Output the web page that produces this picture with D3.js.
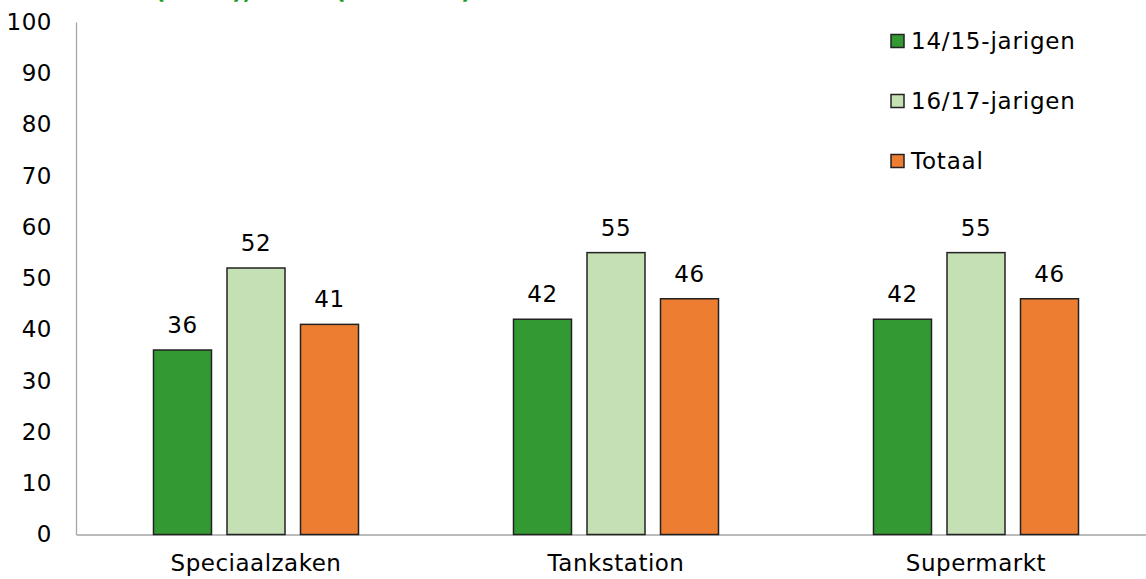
<!DOCTYPE html>
<html><head><meta charset="utf-8">
<script src="https://cdn.jsdelivr.net/npm/d3@7"></script>
<style>body{margin:0;background:#fff}svg{display:block}text{font-family:"DejaVu Sans",Verdana,sans-serif;letter-spacing:0.5px}</style>
</head><body><svg id="c" width="1146" height="579"></svg>
<script>
const categories = ["Speciaalzaken", "Tankstation", "Supermarkt"];
const seriesNames = ["14/15-jarigen", "16/17-jarigen", "Totaal"];
const series1415 = [36, 42, 42];
const series1617 = [52, 55, 55];
const seriesTotaal = [41, 46, 46];
const yTicks = [0, 10, 20, 30, 40, 50, 60, 70, 80, 90, 100];
const colors = ["#339933", "#C5E0B4", "#ED7D31"];
const titleText = "(2015), 2016 (N=1.067)";

const svg = d3.select("#c");
const fs = 23;
const x = d3.scaleBand().domain(categories).range([76, 1156]);
const y = d3.scaleLinear().domain([0, 100]).range([534.5, 22]);
const data = [series1415, series1617, seriesTotaal];

// title (clipped at top)
svg.append("text").attr("x", 155).attr("y", -1).attr("fill", "#1a9c1a")
  .attr("font-size", 23).attr("font-weight", "bold").text(titleText);

// y axis
const ya = svg.append("g").attr("transform", "translate(76,0)")
  .call(d3.axisLeft(y).tickValues(yTicks).tickSize(0).tickPadding(24));
ya.select(".domain").attr("stroke", "#a6a6a6").attr("stroke-width", 1.3);
ya.selectAll("text").attr("font-size", fs).attr("fill", "#000").style("font-family", '"DejaVu Sans",Verdana,sans-serif');

// x axis
const xa = svg.append("g").attr("transform", `translate(0,${y(0)})`)
  .call(d3.axisBottom(x).tickSize(0).tickPadding(20));
xa.select(".domain").attr("stroke", "#a6a6a6").attr("stroke-width", 1.3);
xa.selectAll("text").attr("font-size", fs).attr("fill", "#000").style("font-family", '"DejaVu Sans",Verdana,sans-serif');

const bw = 58, step = 73.5;
const groupStart = (cat) => x(cat) + x.bandwidth() / 2 - (2 * step + bw) / 2;
seriesNames.forEach((s, si) => {
  const g = svg.append("g");
  categories.forEach((c, ci) => {
    const v = data[si][ci];
    const bx = groupStart(c) + si * step;
    g.append("rect").attr("x", bx).attr("y", y(v)).attr("width", bw)
      .attr("height", y(0) - y(v)).attr("fill", colors[si])
      .attr("stroke", "#222").attr("stroke-width", 1.5);
    g.append("text").attr("x", bx + bw / 2).attr("y", y(v) - 17)
      .attr("text-anchor", "middle").attr("font-size", fs).text(v);
  });
});

// legend
const lg = svg.append("g");
seriesNames.forEach((s, i) => {
  const cy = 41 + i * 60;
  lg.append("rect").attr("x", 891).attr("y", cy - 6.5).attr("width", 13).attr("height", 13)
    .attr("fill", colors[i]).attr("stroke", "#222").attr("stroke-width", 1.5);
  lg.append("text").attr("x", 911).attr("y", cy).attr("dy", "0.35em")
    .attr("font-size", fs).style("letter-spacing", "0.8px").text(s);
});
</script></body></html>
